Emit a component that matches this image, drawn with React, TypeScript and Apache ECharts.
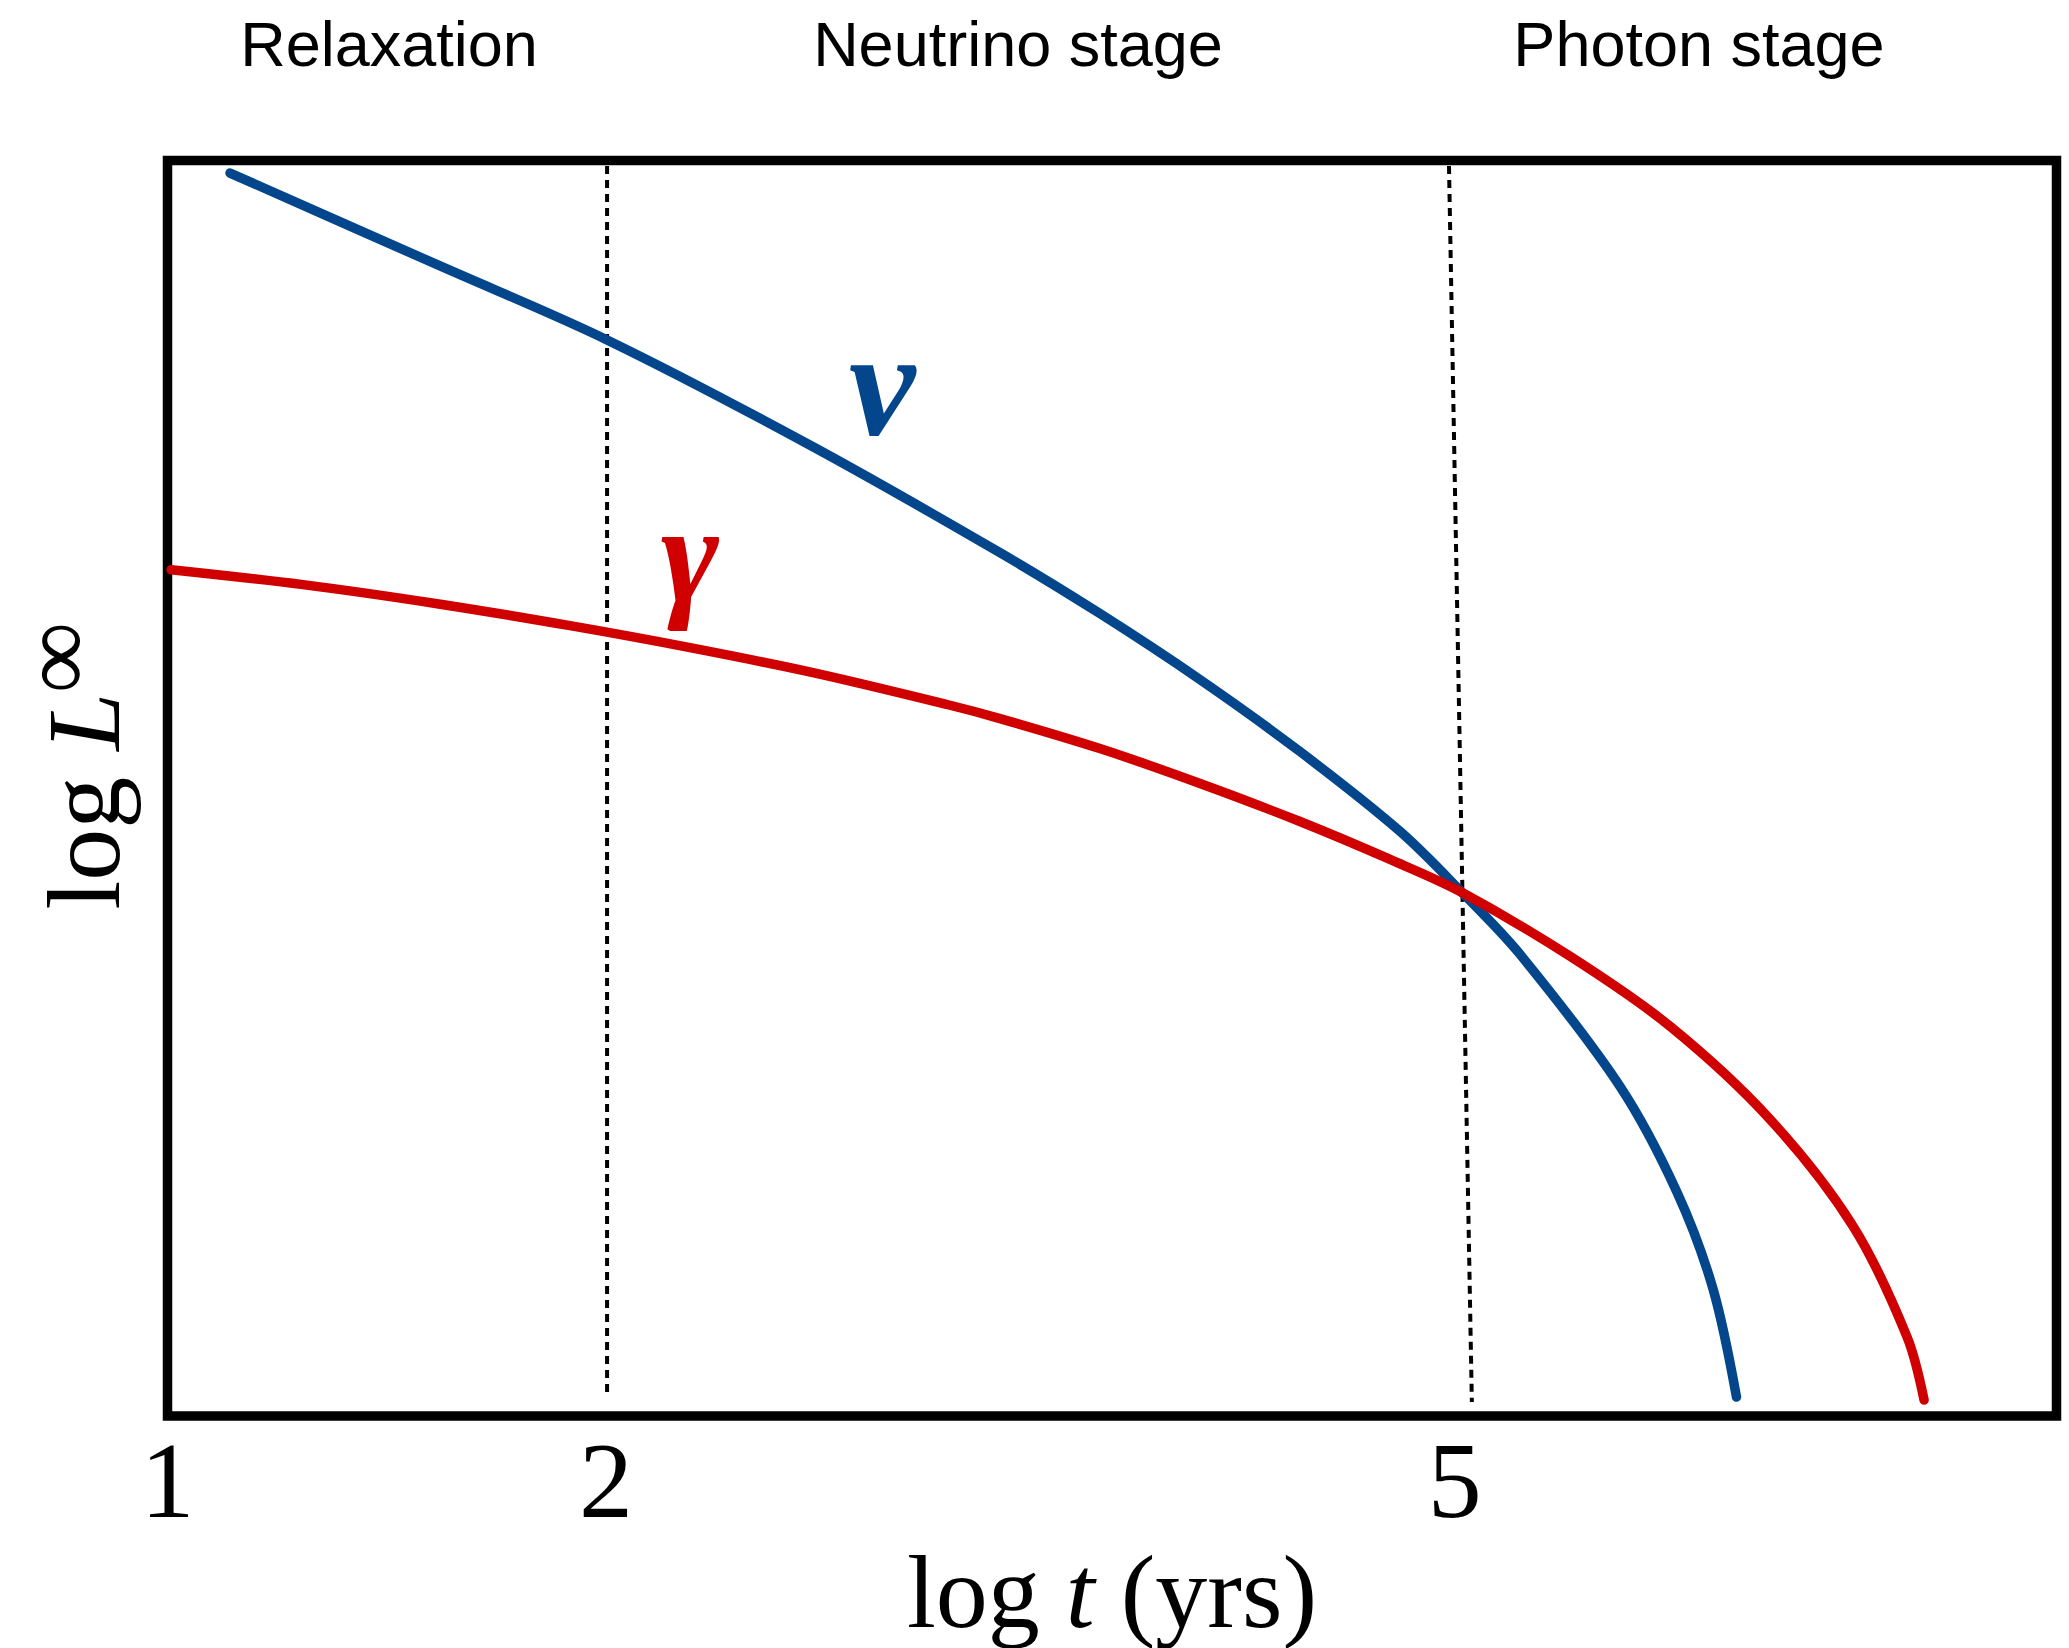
import React, { useEffect, useRef } from 'react';
import * as echarts from 'echarts';

// Schematic x position (0–100 across the plot box) and the log t tick labels placed on it
const xTickPositions = [0, 23.21, 68.15];
const xTickLabels = ['1', '2', '5'];

const stageLabels = ['Relaxation', 'Neutrino stage', 'Photon stage'];

// Neutrino luminosity curve (schematic units, y = 0–100 of plot height)
const nuX = [3.31, 14.43, 23.27, 34.17, 44.07, 49.36, 54.66, 59.95, 65.25, 68.53, 71.6, 76.89, 79.91, 81.82, 83.06];
const nuY = [99.0, 91.6, 85.71, 77.2, 68.76, 63.91, 58.65, 52.92, 46.56, 41.7, 36.77, 26.26, 17.83, 10.11, 1.51];

// Photon luminosity curve
const gammaX = [0.19, 7.17, 14.27, 21.31, 27.66, 34.17, 41.27, 44.07, 49.36, 54.66, 59.95, 64.72, 68.53, 74.25, 79.54, 84.83, 89.23, 92.09, 92.99];
const gammaY = [67.41, 66.22, 64.7, 62.95, 61.2, 59.21, 56.67, 55.55, 53.16, 50.38, 47.35, 44.33, 41.7, 36.61, 31.04, 23.64, 15.12, 6.29, 1.27];

// Stage boundaries (dotted lines)
const boundaryA = [[23.27, 99.56], [23.27, 1.51]];
const boundaryB = [[67.84, 99.56], [69.05, 1.11]];

// Curve label anchors
const nuLabelPos = [37.82, 82.21];
const gammaLabelPos = [27.66, 68.68];

const BLUE = '#04468C';
const RED = '#D00000';

export default function App() {
  const ref = useRef<HTMLDivElement>(null);

  useEffect(() => {
    if (!ref.current) return;
    const chart = echarts.init(ref.current, null, { renderer: 'svg' });

    const nuData = nuX.map((x, i) => [x, nuY[i]]);
    const gammaData = gammaX.map((x, i) => [x, gammaY[i]]);

    const serifRich = {
      a: { fontFamily: 'Liberation Serif', fontSize: 104, lineHeight: 104, color: '#000' },
      b: { fontFamily: 'Liberation Serif', fontSize: 104, lineHeight: 104, fontStyle: 'italic', color: '#000' },
    };

    const stageX = [389, 1018, 1699];

    const dotted = { color: '#000', width: 4, type: [8, 6] };

    chart.setOption({
      animation: false,
      backgroundColor: '#fff',
      grid: {
        left: 167.5,
        top: 160.5,
        width: 1889,
        height: 1256.5,
        show: true,
        borderColor: '#000',
        borderWidth: 9.5,
        backgroundColor: 'transparent',
        containLabel: false,
      },
      xAxis: {
        type: 'value',
        min: 0,
        max: 100,
        axisLine: { show: false },
        axisTick: { show: false },
        splitLine: { show: false },
        axisLabel: {
          customValues: xTickPositions,
          formatter: (v: number) => {
            const i = xTickPositions.findIndex((p) => Math.abs(p - v) < 1e-6);
            return i >= 0 ? xTickLabels[i] : '';
          },
          fontFamily: 'Liberation Serif',
          fontSize: 108,
          lineHeight: 108,
          color: '#000',
          margin: 10,
        },
        name: '{a|log }{b|t}{a| (yrs)}',
        nameLocation: 'middle',
        nameGap: 123,
        nameTextStyle: { rich: serifRich },
      },
      yAxis: {
        type: 'value',
        min: 0,
        max: 100,
        axisLine: { show: false },
        axisTick: { show: false },
        axisLabel: { show: false },
        splitLine: { show: false },
        name: '{a|log }{b|L}',
        nameLocation: 'middle',
        nameRotate: 90,
        nameGap: 32.5,
        nameTextStyle: { rich: serifRich, padding: [0, 26, 0, 0] },
      },
      graphic: [
        ...stageLabels.map((t, i) => ({
          type: 'text',
          x: stageX[i],
          y: 43.5,
          silent: true,
          style: {
            text: t,
            fontFamily: 'Liberation Sans',
            fontSize: 63,
            fill: '#000',
            align: 'center',
            verticalAlign: 'middle',
          },
        })),
        {
          type: 'text',
          x: 56.5,
          y: 657.5,
          rotation: Math.PI / 2,
          silent: true,
          style: {
            text: '∞',
            fontFamily: 'Liberation Serif',
            fontSize: 100,
            fill: '#000',
            align: 'center',
            verticalAlign: 'middle',
          },
        },
      ],
      series: [
        {
          type: 'line',
          data: boundaryA,
          symbol: 'none',
          silent: true,
          lineStyle: dotted,
        },
        {
          type: 'line',
          data: boundaryB,
          symbol: 'none',
          silent: true,
          lineStyle: dotted,
        },
        {
          type: 'line',
          name: 'ν',
          data: nuData,
          symbol: 'none',
          smooth: 0.33,
          silent: true,
          lineStyle: { color: BLUE, width: 9.5, cap: 'round' },
          markPoint: {
            symbol: 'circle',
            symbolSize: 0,
            silent: true,
            data: [{ coord: nuLabelPos, value: 'ν' }],
            label: {
              show: true,
              position: 'inside',
              formatter: 'ν',
              fontFamily: 'Liberation Serif',
              fontStyle: 'italic',
              fontWeight: 'bold',
              fontSize: 150,
              color: BLUE,
            },
          },
        },
        {
          type: 'line',
          name: 'γ',
          data: gammaData,
          symbol: 'none',
          smooth: 0.33,
          silent: true,
          lineStyle: { color: RED, width: 9.5, cap: 'round' },
          markPoint: {
            symbol: 'circle',
            symbolSize: 0,
            silent: true,
            data: [{ coord: gammaLabelPos, value: 'γ' }],
            label: {
              show: true,
              position: 'inside',
              formatter: 'γ',
              fontFamily: 'Liberation Serif',
              fontStyle: 'italic',
              fontWeight: 'bold',
              fontSize: 140,
              color: RED,
            },
          },
        },
      ],
    });

    return () => chart.dispose();
  }, []);

  return (
    <div
      ref={ref}
      style={{ position: 'absolute', left: 0, top: 0, width: 2069, height: 1648, background: '#fff' }}
    />
  );
}
